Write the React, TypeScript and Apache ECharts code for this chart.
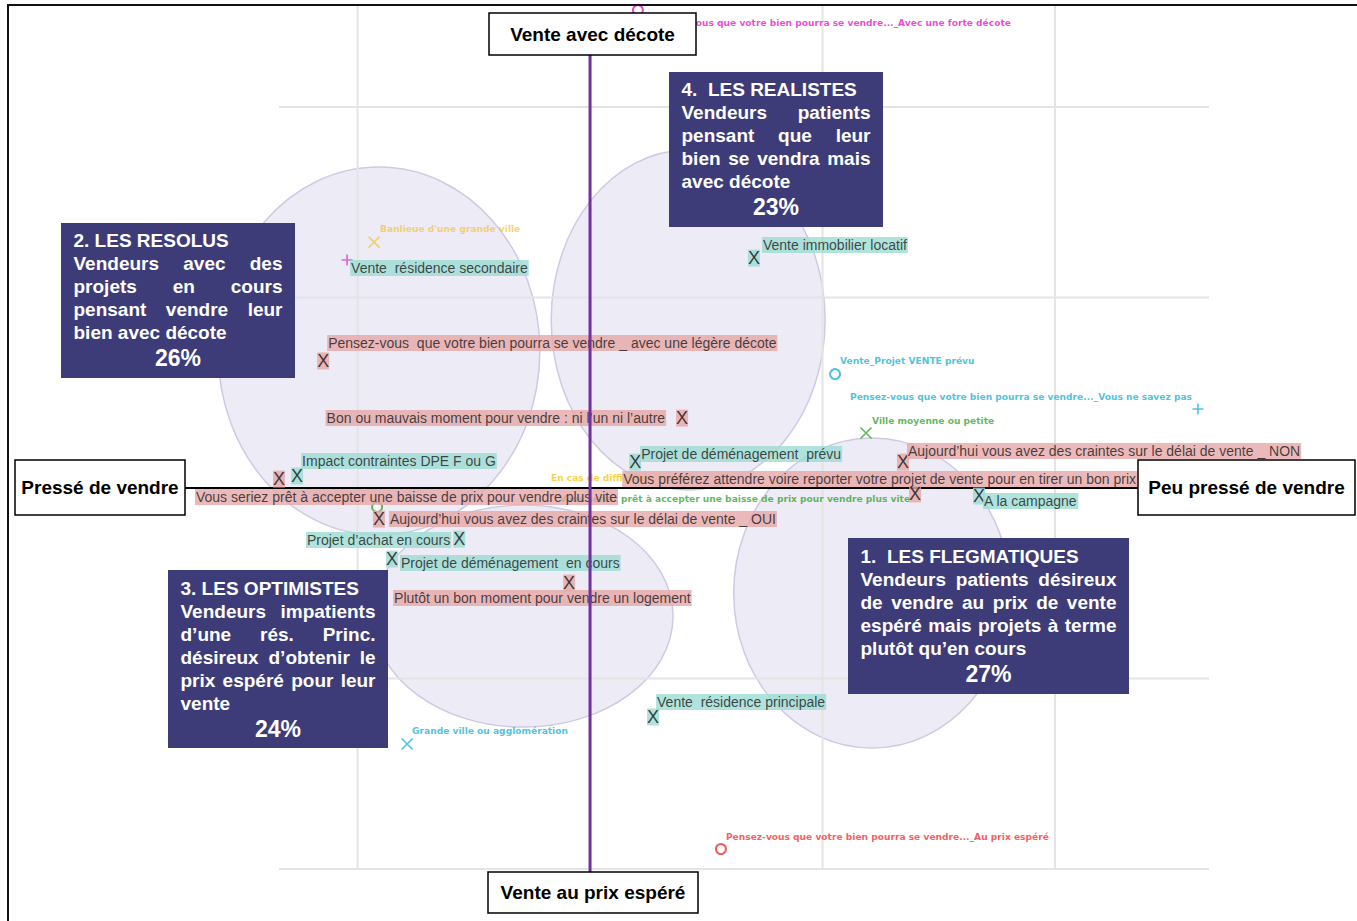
import React, { useEffect, useRef } from "react";
import * as echarts from "echarts";

// ---------------- DATA ----------------
// Cluster ellipses (map units): centre x, centre y, radius x, radius y
const CLUSTER_CX = [1.213, -0.908, -0.288, 0.422];
const CLUSTER_CY = [-0.551, 0.719, -0.672, 0.882];
const CLUSTER_RX = [0.595, 0.692, 0.645, 0.589];
const CLUSTER_RY = [0.814, 0.966, 0.583, 0.892];

// Cluster descriptions
const CLUSTER_TITLES = ["1.  LES FLEGMATIQUES", "2. LES RESOLUS", "3. LES OPTIMISTES", "4.  LES REALISTES"];
const CLUSTER_TEXT = [
  ["Vendeurs patients désireux", "de vendre au prix de vente", "espéré mais projets à terme", "plutôt qu’en cours"],
  ["Vendeurs avec des", "projets en cours", "pensant vendre leur", "bien avec décote"],
  ["Vendeurs impatients", "d’une rés. Princ.", "désireux d’obtenir le", "prix espéré pour leur", "vente"],
  ["Vendeurs patients", "pensant que leur", "bien se vendra mais", "avec décote"],
];
const CLUSTER_PCT = [27, 26, 24, 23];

// Axis poles
const POLE_TOP = "Vente avec décote";
const POLE_BOTTOM = "Vente au prix espéré";
const POLE_LEFT = "Pressé de vendre";
const POLE_RIGHT = "Peu pressé de vendre";

// Illustrative variables (teal)
const TEAL_LABELS = [
  "Vente immobilier locatif",
  "Vente  résidence secondaire",
  "Impact contraintes DPE F ou G",
  "Projet de déménagement  prévu",
  "A la campagne",
  "Projet d’achat en cours",
  "Projet de déménagement  en cours",
  "Vente  résidence principale",
];
const TEAL_X = [0.705, -1.045, -1.26, 0.194, 1.673, -0.563, -0.852, 0.271];
const TEAL_Y = [1.207, 1.197, 0.063, 0.136, -0.042, -0.268, -0.373, -1.202];
const TEAL_HAS_MARK = [true, false, true, true, true, true, true, true];

// Active variables (pink)
const PINK_LABELS = [
  "Pensez-vous  que votre bien pourra se vendre _ avec une légère décote",
  "Bon ou mauvais moment pour vendre : ni l’un ni l’autre",
  "Vous seriez prêt à accepter une baisse de prix pour vendre plus vite",
  "Aujourd’hui vous avez des craintes sur le délai de vente _ OUI",
  "Aujourd’hui vous avez des craintes sur le délai de vente _ NON",
  "Vous préférez attendre voire reporter votre projet de vente pour en tirer un bon prix",
  "Plutôt un bon moment pour vendre un logement",
];
const PINK_X = [-1.148, 0.396, -1.338, -0.908, 1.346, 1.398, -0.09];
const PINK_Y = [0.667, 0.367, 0.047, -0.163, 0.136, -0.031, -0.499];

// Modalities plotted by the software (coloured)
const MOD_LABELS = [
  "Pensez-vous que votre bien pourra se vendre..._Avec une forte décote",
  "Banlieue d'une grande ville",
  "",
  "Vente_Projet VENTE prévu",
  "Pensez-vous que votre bien pourra se vendre..._Vous ne savez pas",
  "Ville moyenne ou petite",
  "Grande ville ou agglomération",
  "Pensez-vous que votre bien pourra se vendre..._Au prix espéré",
  "",
  "Vous seriez prêt à accepter une baisse de prix pour vendre plus vite",
  "En cas de difficultés à vendre",
];
const MOD_X = [0.206, -0.929, -1.045, 1.054, 2.615, 1.187, -0.787, 0.563, -0.916, 1.398, -0.168];
const MOD_Y = [2.509, 1.291, 1.197, 0.598, 0.415, 0.289, -1.344, -1.895, -0.1, -0.031, 0.052];
const MOD_SYMBOL = ["circle", "x", "plus", "circle", "plus", "x", "x", "circle", "circle", "none", "none"];

// ---------------- STYLE / LAYOUT ----------------
const MOD_COLOR = ["#E31CC6", "#F2C94C", "#E040C8", "#22B2D4", "#22B2D4", "#38A538", "#22B2D4", "#F23535", "#38A538", "#38A538", "#F7C615"];
const MOD_LABEL_OFFSET = [[12, 13], [6, -13], [0, 0], [5, -13], [-6, -12], [6, -12], [5, -13], [5, -12], [0, 0], [-5, 5], [0, 0]];
const MOD_LABEL_ALIGN = ["left", "left", "left", "left", "right", "left", "left", "left", "left", "right", "left"];
const TEAL_LABEL_OFFSET = [[8, -13], [3, 8], [4, -15], [5, -8], [4, 5], [-8, 1], [8, 4], [3, -15]];
const TEAL_LABEL_ALIGN = ["left", "left", "left", "left", "left", "right", "left", "left"];
const PINK_LABEL_OFFSET = [[4, -18], [-16, 0], [-84, 18], [10, 0], [4, -11], [222, -15], [-176, 15]];
const PINK_LABEL_ALIGN = ["left", "right", "left", "left", "left", "right", "left"];

const X_MIN = -2.538, X_MAX = 3.299, Y_MIN = -2.273, Y_MAX = 2.562;
const GRID_X_TICKS = [-1, 1, 2];
const GRID_Y_TICKS = [2, 1, -1, -2];
const GRID_X_RANGE = [-1.338, 2.662];
const GRID_Y_RANGE = [-2, 2.535];
const V_AXIS_RANGE = [-2.016, 2.273];
const H_AXIS_RANGE = [-1.742, 2.357];

const TEAL = "#9CDCD3";
const PINK = "#E6A7A7";
const NAVY = "#3E3C78";
const FONT = '"Liberation Sans", Arial, sans-serif';
const FONT_SMALL = '"DejaVu Sans", Verdana, sans-serif';

const CLUSTER_BOX = [
  { x: 848, y: 538, w: 281, h: 156, t: 18 },
  { x: 61, y: 223, w: 234, h: 155, t: 17 },
  { x: 168, y: 570, w: 220, h: 178, t: 18 },
  { x: 669, y: 72, w: 214, h: 155, t: 17 },
];
const POLE_BOX = [
  { text: POLE_TOP, x: 489, y: 13, w: 207, h: 42 },
  { text: POLE_BOTTOM, x: 488, y: 872, w: 210, h: 41 },
  { text: POLE_LEFT, x: 15, y: 460, w: 170, h: 55 },
  { text: POLE_RIGHT, x: 1138, y: 460, w: 217, h: 55 },
];

const SYMBOLS: Record<string, string> = {
  x: "path://M0,0L10,10M10,0L0,10",
  plus: "path://M5,0L5,10M0,5L10,5",
  circle: "emptyCircle",
  none: "circle",
};

let measureCtx: CanvasRenderingContext2D | null = null;
function textWidth(t: string, size: number): number {
  if (!measureCtx) measureCtx = document.createElement("canvas").getContext("2d");
  if (!measureCtx) return t.length * size * 0.55;
  measureCtx.font = `bold ${size}px ${FONT}`;
  return measureCtx.measureText(t).width;
}

function txt(text: string, x: number, y: number, align: string, size: number, fill: string) {
  return {
    type: "text",
    x,
    y,
    z: 101,
    silent: true,
    style: {
      text,
      fill,
      fontSize: size,
      fontWeight: "bold",
      fontFamily: FONT,
      align,
      textAlign: align,
      verticalAlign: "middle",
      textVerticalAlign: "middle",
    },
  };
}

function clusterGraphics(): any[] {
  const els: any[] = [];
  const PAD = 12.5, SIZE = 19, LH = 23;
  CLUSTER_BOX.forEach((b, ci) => {
    els.push({ type: "rect", z: 100, silent: true, shape: { x: b.x, y: b.y, width: b.w, height: b.h }, style: { fill: NAVY } });
    const left = b.x + PAD, right = b.x + b.w - PAD;
    let y = b.y + b.t;
    els.push(txt(CLUSTER_TITLES[ci], left, y, "left", SIZE, "#fff"));
    const body = CLUSTER_TEXT[ci];
    body.forEach((line, i) => {
      y += LH;
      const words = line.split(" ");
      if (i === body.length - 1 || words.length < 2) {
        els.push(txt(line, left, y, "left", SIZE, "#fff"));
        return;
      }
      const ws = words.map((w) => textWidth(w, SIZE));
      const total = ws.reduce((a, c) => a + c, 0);
      const gap = (right - left - total) / (words.length - 1);
      let x = left;
      words.forEach((w, k) => {
        if (k === words.length - 1) els.push(txt(w, right, y, "right", SIZE, "#fff"));
        else els.push(txt(w, x, y, "left", SIZE, "#fff"));
        x += ws[k] + gap;
      });
    });
    y += 26;
    els.push(txt(CLUSTER_PCT[ci] + "%", b.x + b.w / 2, y, "center", 23, "#fff"));
  });
  POLE_BOX.forEach((p) => {
    els.push({ type: "rect", z: 100, silent: true, shape: { x: p.x, y: p.y, width: p.w, height: p.h }, style: { fill: "#fff", stroke: "#000", lineWidth: 1.5 } });
    els.push(txt(p.text, p.x + p.w / 2, p.y + p.h / 2, "center", 19, "#000"));
  });
  els.push({ type: "rect", z: 102, silent: true, shape: { x: 8, y: 5, width: 1400, height: 1000 }, style: { fill: "none", stroke: "#111", lineWidth: 2 } });
  return els;
}

const lineRender = (color: string, width: number) => (params: any, api: any) => {
  const a = api.coord([api.value(0), api.value(1)]);
  const b = api.coord([api.value(2), api.value(3)]);
  return { type: "line", shape: { x1: a[0], y1: a[1], x2: b[0], y2: b[1] }, style: { stroke: color, lineWidth: width, fill: null } };
};

function buildOption(): any {
  const gridLines: number[][] = [];
  GRID_X_TICKS.forEach((x) => gridLines.push([x, GRID_Y_RANGE[0], x, GRID_Y_RANGE[1]]));
  GRID_Y_TICKS.forEach((y) => gridLines.push([GRID_X_RANGE[0], y, GRID_X_RANGE[1], y]));

  const ellipses = CLUSTER_CX.map((cx, i) => [cx, CLUSTER_CY[i], CLUSTER_RX[i], CLUSTER_RY[i]]);

  const modData = MOD_LABELS.map((name, i) => {
    const sym = MOD_SYMBOL[i];
    const isCircle = sym === "circle";
    return {
      name,
      value: [MOD_X[i], MOD_Y[i]],
      symbol: SYMBOLS[sym],
      symbolSize: sym === "none" ? 1 : isCircle ? 10 : 11,
      itemStyle: isCircle
        ? { color: MOD_COLOR[i] }
        : sym === "none"
        ? { color: "rgba(0,0,0,0)" }
        : { color: "rgba(0,0,0,0)", borderColor: MOD_COLOR[i], borderWidth: 1.6 },
      label: {
        show: name !== "",
        color: MOD_COLOR[i],
        align: MOD_LABEL_ALIGN[i],
        offset: MOD_LABEL_OFFSET[i],
      },
    };
  });

  const markSeries = (labels: string[], xs: number[], ys: number[], bg: string, has?: boolean[]) => ({
    type: "scatter",
    z: 5,
    silent: true,
    clip: false,
    symbol: "circle",
    symbolSize: 1,
    itemStyle: { color: "rgba(0,0,0,0)" },
    data: labels.map((n, i) => ({ name: n, value: [xs[i], ys[i]], label: { show: has ? has[i] : true } })),
    label: {
      show: true,
      formatter: "X",
      position: "inside",
      align: "center",
      verticalAlign: "middle",
      color: "#111",
      fontSize: 18,
      fontFamily: FONT,
      backgroundColor: bg,
      padding: [0, 0],
      lineHeight: 17,
    },
  });
  const textSeries = (labels: string[], xs: number[], ys: number[], bg: string, offs: number[][], aligns: string[]) => ({
    type: "scatter",
    z: 5,
    silent: true,
    clip: false,
    symbol: "circle",
    symbolSize: 1,
    itemStyle: { color: "rgba(0,0,0,0)" },
    data: labels.map((n, i) => ({ name: n, value: [xs[i], ys[i]], label: { align: aligns[i], offset: offs[i] } })),
    label: {
      show: true,
      formatter: "{b}",
      position: "inside",
      verticalAlign: "middle",
      color: "#1a1a1a",
      fontSize: 14,
      fontFamily: FONT,
      backgroundColor: bg,
      padding: [0, 1],
      lineHeight: 16,
    },
  });

  return {
    animation: false,
    backgroundColor: "#fff",
    grid: { left: 0, right: 0, top: 0, bottom: 0 },
    xAxis: { type: "value", min: X_MIN, max: X_MAX, show: false },
    yAxis: { type: "value", min: Y_MIN, max: Y_MAX, show: false },
    graphic: clusterGraphics(),
    series: [
      {
        type: "custom",
        z: 1,
        silent: true,
        data: ellipses,
        renderItem: (params: any, api: any) => {
          const c = api.coord([api.value(0), api.value(1)]);
          const s = api.size([api.value(2), api.value(3)]);
          return {
            type: "ellipse",
            shape: { cx: c[0], cy: c[1], rx: s[0], ry: s[1] },
            style: { fill: "rgba(196,190,224,0.3)", stroke: "#CFCAE2", lineWidth: 1.5 },
          };
        },
      },
      { type: "custom", z: 2, silent: true, data: gridLines, renderItem: lineRender("#E4E4E4", 2) },
      { type: "custom", z: 3, silent: true, data: [[H_AXIS_RANGE[0], 0, H_AXIS_RANGE[1], 0]], renderItem: lineRender("#000", 2) },
      {
        type: "scatter",
        z: 4,
        silent: true,
        clip: false,
        data: modData,
        label: {
          show: true,
          formatter: "{b}",
          position: "inside",
          verticalAlign: "middle",
          fontSize: 9.1,
          fontWeight: "bold",
          fontFamily: FONT_SMALL,
        },
      },
      markSeries(TEAL_LABELS, TEAL_X, TEAL_Y, TEAL, TEAL_HAS_MARK),
      textSeries(TEAL_LABELS, TEAL_X, TEAL_Y, TEAL, TEAL_LABEL_OFFSET, TEAL_LABEL_ALIGN),
      markSeries(PINK_LABELS, PINK_X, PINK_Y, PINK),
      textSeries(PINK_LABELS, PINK_X, PINK_Y, PINK, PINK_LABEL_OFFSET, PINK_LABEL_ALIGN),
      { type: "custom", z: 6, silent: true, data: [[0, V_AXIS_RANGE[0], 0, V_AXIS_RANGE[1]]], renderItem: lineRender("#7030A0", 3) },
    ],
  };
}

export default function App() {
  const ref = useRef<HTMLDivElement>(null);
  useEffect(() => {
    if (!ref.current) return;
    const chart = echarts.init(ref.current, null, { renderer: "svg" });
    chart.setOption(buildOption());
    return () => chart.dispose();
  }, []);
  return (
    <div
      ref={ref}
      style={{ position: "fixed", left: 0, top: 0, width: 1357, height: 921, background: "#fff" }}
    />
  );
}
